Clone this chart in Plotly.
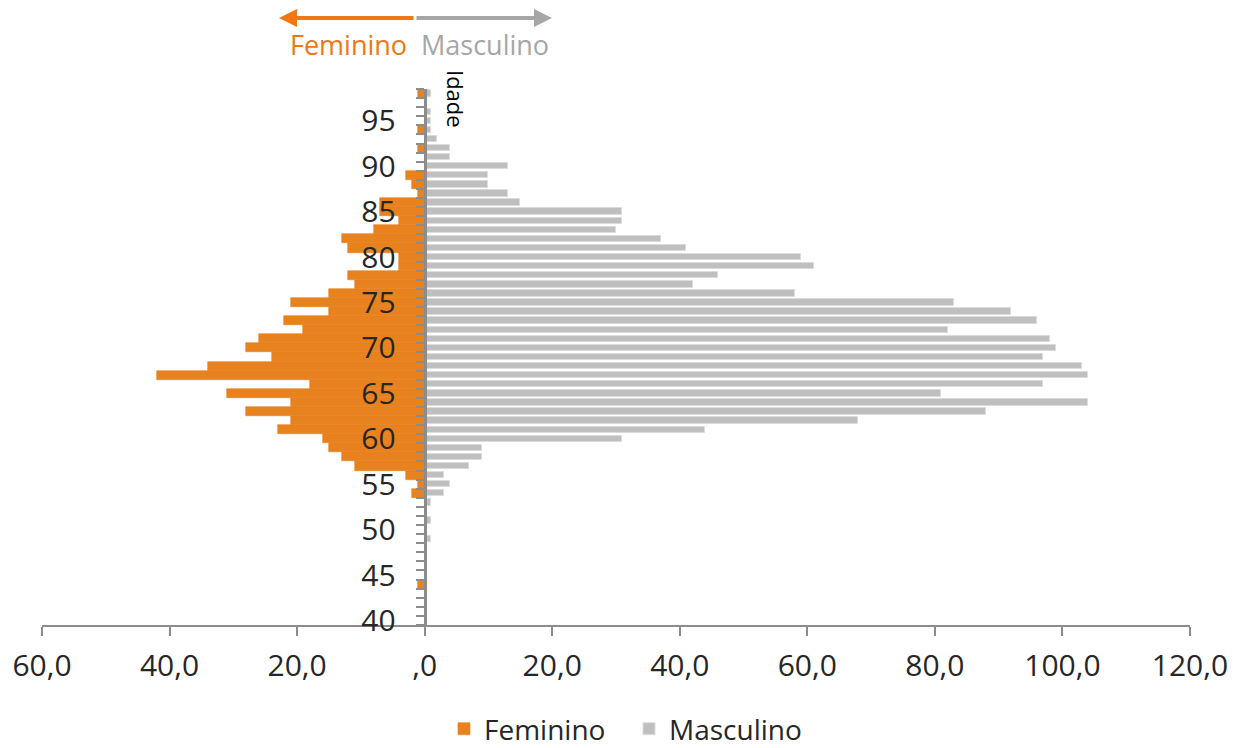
import plotly.graph_objects as go

# ---- data ----
ages = list(range(40, 99))
feminino = [0, 0, 0, 0, 1, 0, 0, 0, 0, 0,
            0, 0, 0, 0, 2, 1, 3, 11, 13, 15,
            16, 23, 21, 28, 21, 31, 18, 42, 34, 24,
            28, 26, 19, 22, 15, 21, 15, 11, 12, 4,
            4, 12, 13, 8, 4, 7, 7, 1, 2, 3,
            0, 0, 1, 0, 1, 0, 0, 0, 1]
masculino = [0, 0, 0, 0, 0, 0, 0, 0, 0, 1,
             0, 1, 0, 1, 3, 4, 3, 7, 9, 9,
             31, 44, 68, 88, 104, 81, 97, 104, 103, 97,
             99, 98, 82, 96, 92, 83, 58, 42, 46, 61,
             59, 41, 37, 30, 31, 31, 15, 13, 10, 10,
             13, 4, 4, 2, 1, 1, 1, 0, 1]
x_tickvals = [-60, -40, -20, 0, 20, 40, 60, 80, 100, 120]
x_ticktext = ["60,0", "40,0", "20,0", ",0", "20,0", "40,0", "60,0", "80,0", "100,0", "120,0"]
y_tickvals = [40, 45, 50, 55, 60, 65, 70, 75, 80, 85, 90, 95]

ORANGE = "#E8821E"
ORANGE_TXT = "#EE7716"
GRAY = "#BFBFBF"
GRAY_TXT = "#A6A6A6"
AXIS = "#8C8C8C"
FONT = "Open Sans"

fig = go.Figure()
fig.add_trace(go.Bar(
    y=ages, x=[-v for v in feminino], orientation="h", name="Feminino",
    marker=dict(color=ORANGE, line=dict(color=ORANGE, width=0.6)), width=1.0,
))
fig.add_trace(go.Bar(
    y=ages, x=masculino, orientation="h", name="Masculino",
    marker=dict(color=GRAY, line=dict(color="#DCDCDC", width=1)), width=0.7,
))

L, R, T, B = 42, 45, 89, 123
W, H = 1235, 748
pw = W - L - R
ph = H - T - B

def px_x(p):
    return (p - L) / pw

def px_y(p):
    return 1 + (T - p) / ph

fig.update_layout(
    width=W, height=H,
    margin=dict(l=L, r=R, t=T, b=B, autoexpand=False),
    barmode="overlay",
    bargap=0,
    plot_bgcolor="white", paper_bgcolor="white",
    font=dict(family=FONT, color="#262626"),
    xaxis=dict(
        range=[-60, 120], tickvals=x_tickvals, ticktext=x_ticktext,
        showgrid=False, zeroline=False, automargin=False,
        showline=True, linecolor=AXIS, linewidth=2,
        ticks="outside", ticklen=9, tickwidth=2, tickcolor=AXIS,
        ticklabelstandoff=4,
        tickfont=dict(size=30, color="#262626"),
    ),
    yaxis=dict(
        range=[39.5, 98.5], tickvals=y_tickvals,
        anchor="free", position=1/3, automargin=False,
        showgrid=False, zeroline=False,
        showline=True, linecolor=AXIS, linewidth=3,
        ticks="", ticklabelstandoff=22,
        minor=dict(ticks="outside", tickmode="linear", tick0=39.5, dtick=1,
                   ticklen=8, tickwidth=2, tickcolor=AXIS, showgrid=False),
        tickfont=dict(size=30, color="#262626"),
    ),
    legend=dict(
        orientation="h", x=0.5 + 13 / pw, xanchor="center", y=px_y(729), yanchor="middle",
        font=dict(size=28, color="#262626"), itemwidth=30,
        entrywidth=140, entrywidthmode="pixels",
        borderwidth=0, bgcolor="rgba(0,0,0,0)",
    ),
    showlegend=True,
)

# Direction arrows at the top
fig.add_annotation(x=px_x(279), y=px_y(18), xref="paper", yref="paper",
                   ax=136, ay=0, axref="pixel", ayref="pixel", text="",
                   showarrow=True, arrowhead=2, arrowsize=0.9, arrowwidth=4,
                   arrowcolor=ORANGE_TXT)
fig.add_annotation(x=px_x(552), y=px_y(18), xref="paper", yref="paper",
                   ax=-137, ay=0, axref="pixel", ayref="pixel", text="",
                   showarrow=True, arrowhead=2, arrowsize=0.9, arrowwidth=4,
                   arrowcolor=GRAY_TXT)
fig.add_annotation(x=px_x(409), y=px_y(44), xref="paper", yref="paper",
                   text="Feminino", showarrow=False, xanchor="right", yanchor="middle",
                   font=dict(size=27, color=ORANGE_TXT, family=FONT))
fig.add_annotation(x=px_x(419), y=px_y(44), xref="paper", yref="paper",
                   text="Masculino", showarrow=False, xanchor="left", yanchor="middle",
                   font=dict(size=27, color=GRAY_TXT, family=FONT))
# Axis title "Idade" (rotated)
fig.add_annotation(x=px_x(456), y=px_y(99), xref="paper", yref="paper",
                   text="Idade", showarrow=False, textangle=90,
                   xanchor="center", yanchor="middle",
                   font=dict(size=22, color="black", family=FONT))

fig.write_html("out.html",
               config={"displayModeBar": False},
               post_script="document.body.style.margin='0px';document.body.style.overflow='hidden';")
